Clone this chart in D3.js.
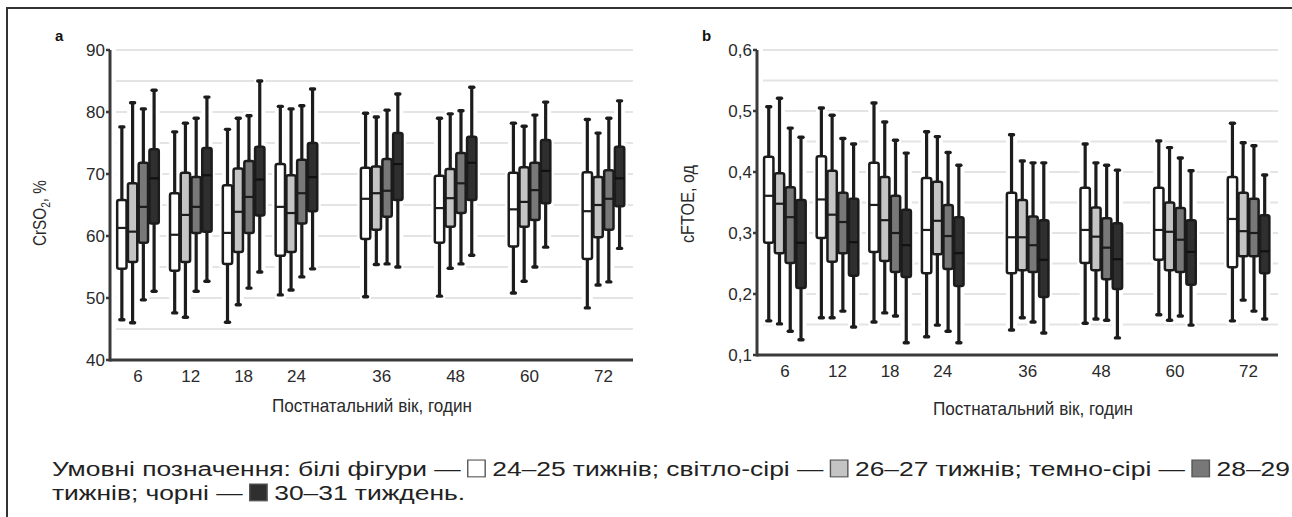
<!DOCTYPE html>
<html><head><meta charset="utf-8">
<script src="https://cdn.jsdelivr.net/npm/d3@7"></script>
<style>body{margin:0;background:#fff}svg{display:block}</style>
</head><body><svg id="c" width="1292" height="517"></svg>
<script>
// ---------- DATA ----------
const hours = [6, 12, 18, 24, 36, 48, 60, 72];
const seriesLabels = ["24–25 тижнів", "26–27 тижнів", "28–29 тижнів", "30–31 тиждень"];
const seriesNames = ["білі фігури", "світло-сірі", "темно-сірі", "чорні"];
const seriesFill = ["#ffffff", "#c4c4c4", "#787878", "#2f2f2f"];

// each entry: [low whisker, Q1, median, Q3, high whisker]
const crso2_24_25 = [[46.5,54.7,61.3,65.8,77.6],[47.6,54.4,60.2,66.9,76.8],[46.1,55.5,60.5,68.2,77.2],[50.5,56.8,64.7,71.6,80.9],[50.2,59.5,66.0,71.0,79.8],[50.3,58.9,64.5,69.7,79.0],[50.8,58.3,64.3,70.2,78.2],[48.4,56.3,64.0,70.3,78.8]];
const crso2_26_27 = [[46.0,55.8,60.7,68.5,81.5],[46.9,55.8,63.4,70.2,78.2],[48.9,57.4,63.9,70.9,79.0],[51.3,57.4,63.7,69.8,80.5],[55.4,61.0,66.9,71.2,79.2],[54.8,61.5,66.1,70.8,79.7],[52.7,61.5,65.5,71.1,77.7],[52.1,59.8,65.0,69.5,76.6]];
const crso2_28_29 = [[49.7,58.9,64.7,71.8,80.5],[51.1,60.5,64.7,69.5,79.0],[51.6,60.5,66.3,72.1,79.4],[53.4,62.0,66.9,72.3,81.0],[55.5,63.1,67.3,72.4,80.3],[55.5,63.7,68.5,73.4,80.2],[55.0,62.6,67.4,71.8,79.5],[52.6,61.0,66.0,70.6,79.0]];
const crso2_30_31 = [[51.1,62.0,69.3,74.0,83.5],[52.7,60.7,69.8,74.2,82.4],[54.2,63.3,69.1,74.4,85.0],[54.7,64.0,69.5,75.0,83.7],[55.0,65.8,71.6,76.6,82.9],[56.9,65.8,71.8,76.0,84.0],[58.2,65.3,70.5,75.5,81.6],[58.0,64.8,69.3,74.4,81.8]];

const cftoe_24_25 = [[0.156,0.284,0.361,0.425,0.507],[0.161,0.292,0.355,0.426,0.505],[0.154,0.269,0.346,0.415,0.513],[0.130,0.234,0.305,0.390,0.466],[0.141,0.234,0.293,0.366,0.461],[0.152,0.251,0.305,0.374,0.446],[0.166,0.256,0.305,0.374,0.451],[0.156,0.244,0.323,0.392,0.480]];
const cftoe_26_27 = [[0.151,0.267,0.348,0.398,0.521],[0.161,0.253,0.330,0.402,0.493],[0.169,0.254,0.321,0.392,0.482],[0.149,0.265,0.320,0.384,0.458],[0.161,0.239,0.293,0.354,0.418],[0.159,0.239,0.294,0.342,0.415],[0.157,0.239,0.302,0.350,0.440],[0.190,0.262,0.303,0.366,0.448]];
const cftoe_28_29 = [[0.139,0.251,0.326,0.375,0.472],[0.172,0.267,0.318,0.366,0.455],[0.164,0.236,0.300,0.361,0.452],[0.139,0.241,0.295,0.346,0.432],[0.154,0.236,0.280,0.327,0.415],[0.157,0.224,0.276,0.324,0.411],[0.164,0.236,0.289,0.341,0.423],[0.172,0.262,0.300,0.356,0.443]];
const cftoe_30_31 = [[0.125,0.210,0.284,0.354,0.457],[0.146,0.230,0.285,0.356,0.446],[0.120,0.228,0.280,0.338,0.431],[0.120,0.213,0.267,0.326,0.411],[0.136,0.195,0.256,0.321,0.415],[0.128,0.208,0.257,0.316,0.403],[0.149,0.215,0.269,0.321,0.402],[0.159,0.234,0.270,0.329,0.395]];

const crso2Ticks = [40, 50, 60, 70, 80, 90];
const cftoeTicks = [0.1, 0.2, 0.3, 0.4, 0.5, 0.6];
const xTitle = "Постнатальний вік, годин";
const legendPrefix = "Умовні позначення:";

// ---------- LAYOUT ----------
const svg = d3.select("#c");
const INK = "#1c1c1c";
const AXIS = "#3a3a3a";
const FONT = "'Liberation Sans', Arial, sans-serif";

svg.append("path").attr("d", "M7,517V8H1292").attr("fill", "none")
  .attr("stroke", "#333").attr("stroke-width", 2);

const panels = [
  { key: "a", x0: 110, x1: 633, yTop: 50, yBot: 360, domain: [40, 90], ticks: crso2Ticks, gridStep: 5,
    fmt: d => String(d), data: [crso2_24_25, crso2_26_27, crso2_28_29, crso2_30_31],
    labelX: 55, titleX: 46, titleY: 213, titleLen: 66, titleMain: "CrSO", titleSub: "2", titleTail: ", %", xTitleX: 372, xTitleY: 412 },
  { key: "b", x0: 757, x1: 1278, yTop: 50, yBot: 355, domain: [0.1, 0.6], ticks: cftoeTicks, gridStep: 0.05,
    fmt: d => d3.format(".1f")(d).replace(".", ","), data: [cftoe_24_25, cftoe_26_27, cftoe_28_29, cftoe_30_31],
    labelX: 702, titleX: 694, titleY: 204, titleLen: 78, titleMain: "cFTOE, од", titleSub: "", titleTail: "", xTitleX: 1033, xTitleY: 415 }
];

// relative placement of the hour groups along the axis
const hourAnchors = [6, 24, 36, 72];
const hourFrac = [0.0535, 0.3565, 0.5195, 0.9435];

panels.forEach(p => {
  const g = svg.append("g");
  const W = p.x1 - p.x0;
  const x = d3.scaleLinear().domain(hourAnchors).range(hourFrac.map(f => p.x0 + f * W));
  const y = d3.scaleLinear().domain(p.domain).range([p.yBot, p.yTop]);
  const sx = d3.scaleBand().domain(d3.range(seriesLabels.length)).range([-21.5, 21.5]);
  const bw = sx.bandwidth() - 1.4;

  // grid
  const gridVals = d3.range(p.domain[0] + p.gridStep, p.domain[1] + p.gridStep / 2, p.gridStep);
  g.append("g").selectAll("line").data(gridVals).join("line")
    .attr("x1", p.x0 + 6).attr("x2", p.x1)
    .attr("y1", d => y(d)).attr("y2", d => y(d))
    .attr("stroke", "#e4e4e4").attr("stroke-width", 2);

  const boxes = [];
  p.data.forEach((arr, si) => arr.forEach((v, hi) => {
    boxes.push({ si, cx: x(hours[hi]) + sx(si) + sx.bandwidth() / 2, lo: v[0], q1: v[1], med: v[2], q3: v[3], hi: v[4] });
  }));

  // white halos
  const halo = g.append("g");
  halo.selectAll("line").data(boxes).join("line")
    .attr("x1", d => d.cx).attr("x2", d => d.cx)
    .attr("y1", d => y(d.hi) - 4).attr("y2", d => y(d.lo) + 4)
    .attr("stroke", "#fff").attr("stroke-width", 11);
  halo.selectAll("rect").data(boxes).join("rect")
    .attr("x", d => d.cx - bw / 2).attr("width", bw)
    .attr("y", d => y(d.q3)).attr("height", d => y(d.q1) - y(d.q3))
    .attr("fill", "#fff").attr("stroke", "#fff").attr("stroke-width", 7);

  // whiskers
  g.append("g").attr("stroke", INK).attr("stroke-width", 3.2)
    .selectAll("line").data(boxes).join("line")
    .attr("x1", d => d.cx).attr("x2", d => d.cx)
    .attr("y1", d => y(d.hi)).attr("y2", d => y(d.lo));
  const cg = g.append("g").attr("stroke", INK).attr("stroke-width", 3.4).attr("stroke-linecap", "round");
  cg.selectAll("line.t").data(boxes).join("line").attr("class", "t")
    .attr("x1", d => d.cx - 2).attr("x2", d => d.cx + 2)
    .attr("y1", d => y(d.hi)).attr("y2", d => y(d.hi));
  cg.selectAll("line.b").data(boxes).join("line").attr("class", "b")
    .attr("x1", d => d.cx - 2).attr("x2", d => d.cx + 2)
    .attr("y1", d => y(d.lo)).attr("y2", d => y(d.lo));

  // boxes
  g.append("g").selectAll("rect").data(boxes).join("rect")
    .attr("x", d => d.cx - bw / 2).attr("width", bw)
    .attr("y", d => y(d.q3)).attr("height", d => y(d.q1) - y(d.q3))
    .attr("rx", 2)
    .attr("fill", d => seriesFill[d.si]).attr("stroke", INK).attr("stroke-width", 2.5);
  g.append("g").selectAll("line").data(boxes).join("line")
    .attr("x1", d => d.cx - bw / 2).attr("x2", d => d.cx + bw / 2)
    .attr("y1", d => y(d.med)).attr("y2", d => y(d.med))
    .attr("stroke", d => d.si === 3 ? "#111" : INK).attr("stroke-width", 2.2);

  // axes
  g.append("line").attr("x1", p.x0).attr("x2", p.x0).attr("y1", p.yTop).attr("y2", p.yBot + 1.5)
    .attr("stroke", AXIS).attr("stroke-width", 3);
  g.append("line").attr("x1", p.x0).attr("x2", p.x1).attr("y1", p.yBot).attr("y2", p.yBot)
    .attr("stroke", AXIS).attr("stroke-width", 3.2);
  g.append("g").selectAll("line").data(p.ticks).join("line")
    .attr("x1", p.x0 - 4).attr("x2", p.x0).attr("y1", d => y(d)).attr("y2", d => y(d))
    .attr("stroke", AXIS).attr("stroke-width", 2.5);
  g.append("g").selectAll("text").data(p.ticks).join("text")
    .attr("x", p.x0 - 5).attr("y", d => y(d)).attr("dy", "0.36em")
    .attr("text-anchor", "end").attr("font-family", FONT)
    .attr("font-size", 17).attr("fill", "#2a2a2a").text(p.fmt);
  g.append("g").selectAll("text").data(hours).join("text")
    .attr("x", d => x(d)).attr("y", p.yBot + 22)
    .attr("text-anchor", "middle").attr("font-family", FONT)
    .attr("font-size", 17).attr("fill", "#2a2a2a").text(d => d);

  // titles
  g.append("text").attr("x", p.xTitleX).attr("y", p.xTitleY).attr("text-anchor", "middle")
    .attr("font-family", FONT).attr("font-size", 19)
    .attr("textLength", 200).attr("lengthAdjust", "spacingAndGlyphs")
    .attr("fill", "#2a2a2a").text(xTitle);
  const yt = g.append("text").attr("font-family", FONT).attr("font-size", 18).attr("fill", "#2a2a2a")
    .attr("text-anchor", "start");
  yt.append("tspan").text(p.titleMain);
  if (p.titleSub) {
    yt.append("tspan").attr("font-size", 12).attr("dy", 4).text(p.titleSub);
    yt.append("tspan").attr("dy", -4).text(p.titleTail);
  }
  const tw = yt.node().getComputedTextLength();
  const k = p.titleLen / tw;
  yt.attr("transform", `translate(${p.titleX},${p.titleY + p.titleLen / 2}) rotate(-90) scale(${k},1)`);

  g.append("text").attr("x", p.labelX).attr("y", 41)
    .attr("font-family", FONT).attr("font-weight", "bold")
    .attr("font-size", 15).attr("fill", "#111").text(p.key);
});

// ---------- LEGEND ----------
const tokens = [{ t: legendPrefix }];
seriesNames.forEach((n, i) => {
  n.split(" ").forEach(w => tokens.push({ t: w }));
  tokens.push({ t: "—" });
  tokens.push({ sq: i });
  const words = (seriesLabels[i] + (i < seriesNames.length - 1 ? ";" : ".")).split(" ");
  words.forEach((w, k) => {
    tokens.push({ t: w });
    if (i === 2 && k === 0) tokens.push({ br: true });
  });
});
const lgOuter = svg.append("g");
const lg = lgOuter.append("g");
const FS = 21;
const lineY = [476, 500];
const sp = FS * 0.27;
let line = 0, xx = 0, line1End = 0;
tokens.forEach(tk => {
  if (tk.br) { line1End = xx - sp; line = 1; xx = 0; return; }
  if (tk.sq !== undefined) {
    const w = FS * 0.66;
    lg.append("rect").attr("x", xx).attr("y", lineY[line] - FS * 0.76).attr("width", w).attr("height", FS * 0.8)
      .attr("fill", tk.sq === 0 ? "#fff" : seriesFill[tk.sq]).attr("stroke", "#555").attr("stroke-width", 1.1);
    xx += w + sp;
  } else {
    const t = lg.append("text").attr("x", xx).attr("y", lineY[line])
      .attr("font-family", FONT).attr("font-size", FS).attr("fill", "#222").text(tk.t);
    xx += t.node().getComputedTextLength() + sp;
  }
});
lgOuter.attr("transform", `translate(52,0) scale(${1238 / line1End},1)`);
</script></body></html>
